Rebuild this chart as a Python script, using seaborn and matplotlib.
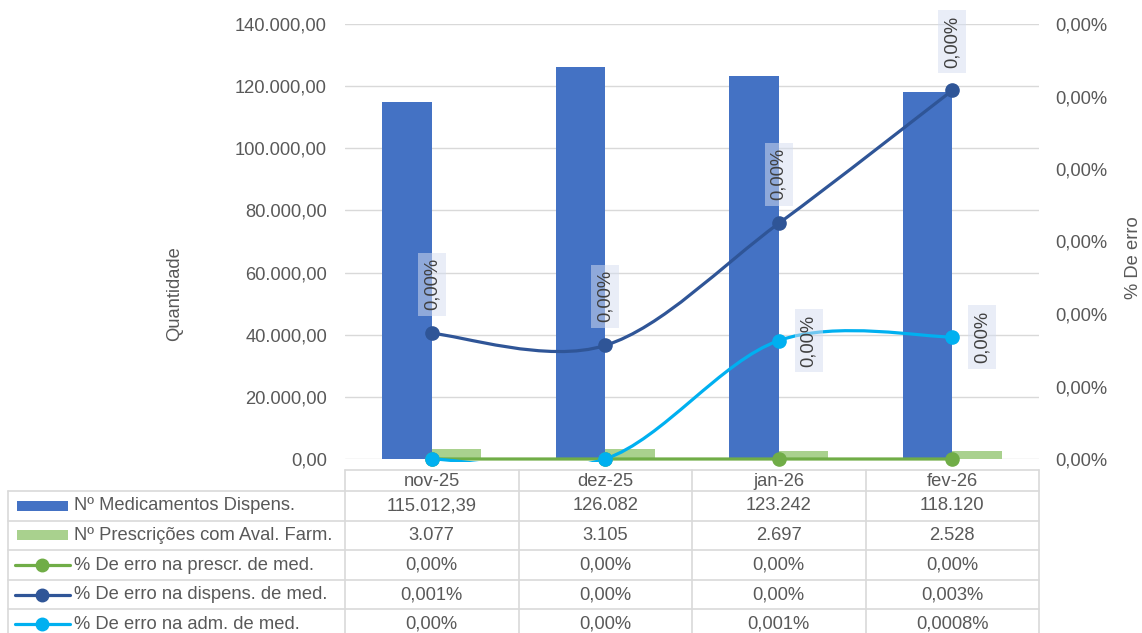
import numpy as np
import pandas as pd
import matplotlib
matplotlib.use('Agg')
import matplotlib.pyplot as plt
from matplotlib.path import Path
from matplotlib.patches import PathPatch, Rectangle
from matplotlib.lines import Line2D
from matplotlib.ticker import FuncFormatter, MultipleLocator
import seaborn as sns

# dados
meses = ['nov-25', 'dez-25', 'jan-26', 'fev-26']
med_dispens = [115012.39, 126082, 123242, 118120]
presc_aval = [3077, 3105, 2697, 2528]
erro_prescr = [0.0, 0.0, 0.0, 0.0]
erro_dispens = [0.0000104, 0.0000094, 0.0000195, 0.0000305]
erro_adm = [0.0, 0.0, 0.0000098, 0.0000101]

# texto da tabela de dados (como aparece no excel)
tab_med = ['115.012,39', '126.082', '123.242', '118.120']
tab_presc = ['3.077', '3.105', '2.697', '2.528']
tab_prescr = ['0,00%', '0,00%', '0,00%', '0,00%']
tab_dispens = ['0,001%', '0,00%', '0,00%', '0,003%']
tab_adm = ['0,00%', '0,00%', '0,001%', '0,0008%']

nomes = ['Nº Medicamentos Dispens.', 'Nº Prescrições com Aval. Farm.',
         '% De erro na prescr. de med.', '% De erro na dispens. de med.',
         '% De erro na adm. de med.']

AZUL = '#4472C4'
VERDE_CLARO = '#A9D18E'
VERDE = '#70AD47'
AZUL_ESC = '#2F5597'
CIANO = '#00B0F0'
CINZA_TXT = '#595959'
CINZA_GRID = '#D9D9D9'

W, H = 1142, 633
FS = 13.2

sns.set_theme(style='white')
plt.rcParams['font.family'] = ['Liberation Sans', 'DejaVu Sans']
plt.rcParams['font.size'] = FS
plt.rcParams['text.color'] = CINZA_TXT


def fmt_num(v, pos=None):
    s = f'{v:,.2f}'
    return s.replace(',', '#').replace('.', ',').replace('#', '.')


def fmt_pct(v, pos=None):
    return f'{v * 100:.2f}%'.replace('.', ',')


def curva_suave(xs, ys):
    # curva suavizada tipo excel (catmull-rom em bezier)
    pts = np.column_stack([xs, ys]).astype(float)
    ext = np.vstack([pts[0], pts, pts[-1]])
    verts = [pts[0]]
    codes = [Path.MOVETO]
    for i in range(len(pts) - 1):
        p0, p1, p2, p3 = ext[i], ext[i + 1], ext[i + 2], ext[i + 3]
        verts += [p1 + (p2 - p0) / 6, p2 - (p3 - p1) / 6, p2]
        codes += [Path.CURVE4] * 3
    return Path(verts, codes)


fig = plt.figure(figsize=(W / 100, H / 100), dpi=100)
ax = fig.add_axes([345 / W, 1 - 459 / H, 694 / W, 435 / H])

df = pd.DataFrame({'mes': meses * 2,
                   'valor': med_dispens + presc_aval,
                   'serie': [nomes[0]] * 4 + [nomes[1]] * 4})
sns.barplot(data=df, x='mes', y='valor', hue='serie', palette=[AZUL, VERDE_CLARO],
            width=0.57, errorbar=None, saturation=1, linewidth=0, ax=ax, legend=False)

ax.set_xlim(-0.5, 3.5)
ax.set_ylim(0, 140000)
ax.yaxis.set_major_locator(MultipleLocator(20000))
ax.yaxis.set_major_formatter(FuncFormatter(fmt_num))
ax.tick_params(axis='y', length=0, pad=13, labelsize=FS, labelcolor=CINZA_TXT)
ax.tick_params(axis='x', length=0, labelbottom=False)
ax.set_xlabel('')
ax.set_ylabel('')
ax.yaxis.grid(True, color=CINZA_GRID, lw=1)
ax.set_axisbelow(True)
for s in ax.spines.values():
    s.set_visible(False)

ax2 = ax.twinx()
ax2.set_ylim(0, 0.000036)
ax2.yaxis.set_major_locator(MultipleLocator(0.000006))
ax2.yaxis.set_major_formatter(FuncFormatter(fmt_pct))
ax2.tick_params(axis='y', length=0, pad=11.5, labelsize=FS, labelcolor=CINZA_TXT)
for s in ax2.spines.values():
    s.set_visible(False)

# area de recorte um pouco maior que a area do grafico (como no excel)
recorte = Rectangle((-0.02, -0.006), 1.04, 1.2, transform=ax2.transAxes,
                    facecolor='none', edgecolor='none')
ax2.add_patch(recorte)

x = np.arange(len(meses))
series = [erro_prescr, erro_dispens, erro_adm]
cores = [VERDE, AZUL_ESC, CIANO]
for ys, cor in zip(series, cores):
    curva = PathPatch(curva_suave(x, ys), facecolor='none', edgecolor=cor,
                      lw=2.3, capstyle='round', zorder=3)
    ax2.add_patch(curva)
    curva.set_clip_path(recorte)
    ax2.plot(x, ys, 'o', color=cor, ms=9.5, clip_on=False, zorder=4)

# rotulos de dados
caixa = dict(boxstyle='square,pad=0.3', fc=(0.835, 0.867, 0.94, 0.52), ec='none')
for i, v in enumerate(erro_dispens):
    ax2.annotate(fmt_pct(v), xy=(i, v), xytext=(0, 49), textcoords='offset pixels',
                 rotation=90, ha='center', va='center', fontsize=FS, color='#404040',
                 bbox=caixa, annotation_clip=False, zorder=5)
for i, v in enumerate(erro_adm):
    if v > 0:
        ax2.annotate(fmt_pct(v), xy=(i, v), xytext=(30, 0), textcoords='offset pixels',
                     rotation=90, ha='center', va='center', fontsize=FS, color='#404040',
                     bbox=caixa, annotation_clip=False, zorder=5)

fig.text(175 / W, 1 - 294 / H, 'Quantidade', rotation=90, ha='center', va='center',
         fontsize=FS, color=CINZA_TXT)
fig.text(1133 / W, 1 - 258 / H, '% De erro', rotation=90, ha='center', va='center',
         fontsize=FS, color=CINZA_TXT)

# tabela de dados
tax = fig.add_axes([0, 0, 1, 1], zorder=-1)
tax.set_xlim(0, W)
tax.set_ylim(H, 0)
tax.axis('off')

bordas = [ax.transData.transform((i - 0.5, 0))[0] for i in range(len(meses) + 1)]
centros = [(bordas[i] + bordas[i + 1]) / 2 for i in range(len(meses))]
topo, cab, alt = 470, 491, 29.6
linhas = [cab + k * alt for k in range(6)]
esq = 8
lw_tab = 1.2

tax.plot([bordas[0], bordas[-1]], [topo, topo], color=CINZA_GRID, lw=lw_tab)
for b in bordas:
    tax.plot([b, b], [topo, linhas[-1]], color=CINZA_GRID, lw=lw_tab, clip_on=False)
for yl in linhas:
    tax.plot([esq, bordas[-1]], [yl, yl], color=CINZA_GRID, lw=lw_tab, clip_on=False)
tax.plot([esq, esq], [cab, linhas[-1]], color=CINZA_GRID, lw=lw_tab, clip_on=False)

for c, m in zip(centros, meses):
    tax.text(c, (topo + cab) / 2 + 1, m, ha='center', va='center', fontsize=FS, color=CINZA_TXT)

valores_tab = [tab_med, tab_presc, tab_prescr, tab_dispens, tab_adm]
for k, (nome, vals) in enumerate(zip(nomes, valores_tab)):
    yc = (linhas[k] + linhas[k + 1]) / 2
    if k < 2:
        tax.add_patch(Rectangle((17, yc - 5), 51, 10, color=[AZUL, VERDE_CLARO][k], lw=0))
    else:
        cor = cores[k - 2]
        tax.add_line(Line2D([15, 70], [yc, yc], color=cor, lw=2.3))
        tax.plot([42], [yc], 'o', color=cor, ms=9)
    tax.text(74, yc, nome, ha='left', va='center', fontsize=FS, color=CINZA_TXT)
    for c, v in zip(centros, vals):
        tax.text(c, yc, v, ha='center', va='center', fontsize=FS, color=CINZA_TXT)

fig.savefig('out.png', dpi=100)
